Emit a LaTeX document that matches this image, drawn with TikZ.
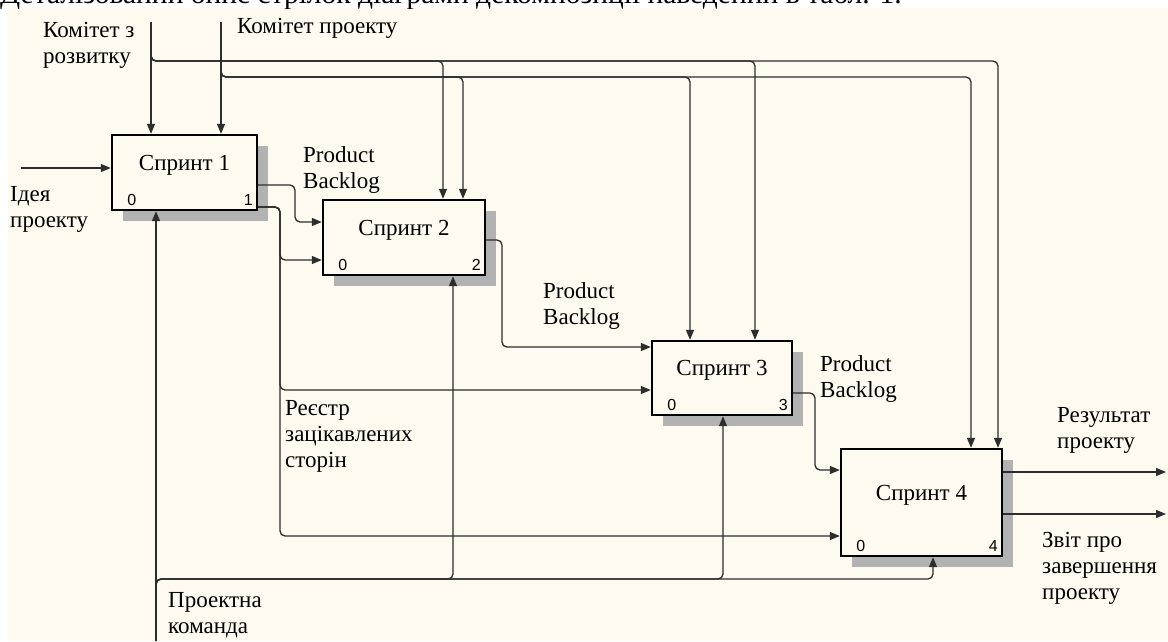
\documentclass[tikz,border=0pt]{standalone}
\usepackage{fontspec}
\setmainfont{Liberation Serif}
\newfontfamily\numfont{Liberation Sans}
\usetikzlibrary{arrows.meta,shadows,calc}
\definecolor{paper}{RGB}{255,250,240}
\definecolor{linegray}{RGB}{45,45,45}

\begin{document}
\begin{tikzpicture}[x=1pt, y=-1pt,
    sprint/.style={draw=black, line width=2.4pt, fill=paper, inner sep=0pt,
        font=\fontsize{23}{26}\selectfont, text height=16pt, text depth=21pt,
        general shadow={shadow xshift=11pt, shadow yshift=-11pt, fill=black!30}},
    num/.style={font=\numfont\fontsize{16}{18}\selectfont, inner sep=0pt},
    lbl/.style={font=\fontsize{23}{26}\selectfont, align=left, inner sep=0pt, anchor=base west},
    wire/.style={draw=linegray, line width=1.3pt, rounded corners=5pt, -{Triangle[length=10pt,width=8pt]}}
]
        % Page and paper
        \useasboundingbox (0,0) rectangle (1168,641);
        \fill[white] (0,0) rectangle (1168,641);
        \fill[paper] (8,8) rectangle (1168,641);
        \begin{scope}
            \clip (0,0) rectangle (1168,8);
            \node[lbl, font=\fontsize{29.5}{32}\selectfont] (note) at (0,3.5) {Деталізований опис стрілок діаграми декомпозиції наведений в табл. 1.};
        \end{scope}

        % Sprint boxes
        \node[sprint, minimum width=145pt, minimum height=75pt] (s1) at (184.5,172.5) {Спринт 1};
        \node[sprint, minimum width=162pt, minimum height=75pt] (s2) at (404,237.5) {Спринт 2};
        \node[sprint, minimum width=140pt, minimum height=74pt] (s3) at (722,378) {Спринт 3};
        \node[sprint, minimum width=161pt, minimum height=107pt] (s4) at (921.5,502.5) {Спринт 4};

        % Box numbers
        \foreach \b/\n in {s1/1, s2/2, s3/3, s4/4} {
            \node[num] (\b z) at ($(\b.south west)+(21,-11)$) {0};
            \node[num] (\b n) at ($(\b.south east)+(-10,-11)$) {\n};
        }

        % Labels (base = last line)
        \node[lbl] (kzr) at (43,63) {Комітет з\\розвитку};
        \node[lbl] (kp) at (237,33) {Комітет проекту};
        \node[lbl] (idea) at (10,227) {Ідея\\проекту};
        \node[lbl] (pb1) at (303,188) {Product\\Backlog};
        \node[lbl] (pb2) at (543,324) {Product\\Backlog};
        \node[lbl] (pb3) at (820,397) {Product\\Backlog};
        \node[lbl] (reg) at (285,467) {Реєстр\\зацікавлених\\сторін};
        \node[lbl] (team) at (168,633) {Проектна\\команда};
        \node[lbl] (res) at (1057,448) {Результат\\проекту};
        \node[lbl] (rep) at (1042,599) {Звіт про\\завершення\\проекту};

        % Input
        \coordinate (ideaIn) at (21,168);
        \draw[wire] (ideaIn) -- (ideaIn -| s1.west);

        % Controls
        \coordinate (ctlA) at (151,22);
        \coordinate (ctlB) at (221,22);
        \draw[wire] (ctlA) -- (ctlA |- s1.north);
        \draw[wire] (ctlB) -- (ctlB |- s1.north);
        \foreach \x/\b in {443/s2, 755/s3, 998/s4}
            \draw[wire] (ctlA) |- (\x,61) -- (\x,0 |- \b.north);
        \foreach \x/\b in {463/s2, 690/s3, 971/s4}
            \draw[wire] (ctlB) |- (\x,77) -- (\x,0 |- \b.north);

        % Product Backlog chain
        \draw[wire] (s1.east |- 0,185) -| (295,222) -- (s2.west |- 0,222);
        \draw[wire] (s2.east |- 0,240) -| (502,347) -- (s3.west |- 0,347);
        \draw[wire] (s3.east |- 0,393) -| (815,470) -- (s4.west |- 0,470);

        % Stakeholder register
        \coordinate (s1o2) at (s1.east |- 0,207);
        \foreach \y/\b in {260/s2, 390/s3, 536/s4}
            \draw[wire] (s1o2) -| (280,\y) -- (\b.west |- 0,\y);

        % Outputs
        \coordinate (resOut) at (1166,472);
        \coordinate (repOut) at (1166,514);
        \draw[wire] (s4.east |- resOut) -- (resOut);
        \draw[wire] (s4.east |- repOut) -- (repOut);

        % Mechanism
        \coordinate (team0) at (156,641);
        \draw[wire] (team0) -- (team0 |- s1.south);
        \foreach \x/\b in {453/s2, 723/s3, 933/s4}
            \draw[wire] (team0) |- (\x,579) -- (\x,0 |- \b.south);

    \end{tikzpicture}
\end{document}
